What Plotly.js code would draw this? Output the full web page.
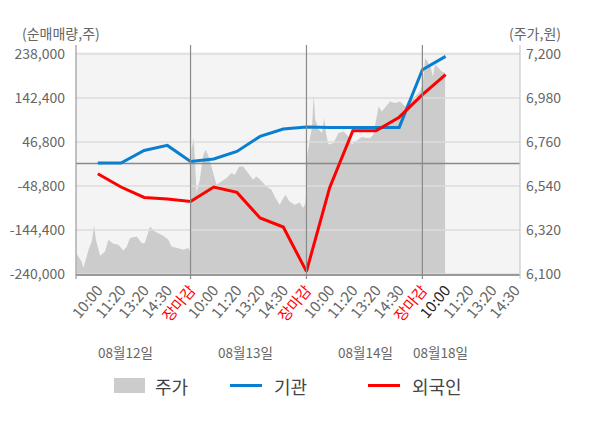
<!DOCTYPE html>
<html>
<head>
<meta charset="utf-8">
<script src="https://cdn.plot.ly/plotly-3.0.1.min.js"></script>
<style>html,body{margin:0;padding:0;background:#fff;}#chart{width:600px;height:428px;}</style>
</head>
<body>
<div id="chart"></div>
<script>
// ---- data ----
const slotLabels = ['10:00','11:20','13:20','14:30','장마감',
                    '10:00','11:20','13:20','14:30','장마감',
                    '10:00','11:20','13:20','14:30','장마감',
                    '10:00','11:20','13:20','14:30'];
const dateLabels = ['08월12일','08월13일','08월14일','08월18일'];
const seriesNames = ['주가','기관','외국인'];
const leftTickVals = [-240000,-144400,-48800,46800,142400,238000];
const leftTickText = ['-240,000','-144,400','-48,800','46,800','142,400','238,000'];
const rightTickVals = [6100,6320,6540,6760,6980,7200];
const rightTickText = ['6,100','6,320','6,540','6,760','6,980','7,200'];

// net buying (shares) at slots 1..16
const instSlots = [1,2,3,4,5,6,7,8,9,10,11,12,13,14,15,16];
const instValues = [1200,1200,28500,39400,4600,9900,26400,59000,75000,79400,78500,78500,78500,78500,203900,232800];
const foreignValues = [-22100,-51000,-73600,-77000,-82300,-51000,-62700,-118300,-137900,-234400,-52500,71300,71300,100700,149600,193000];

// stock price (slot position, price)
const priceX = [0.09,0.30,0.38,0.45,0.60,0.74,0.84,0.92,1.10,1.31,1.46,1.67,1.89,2.10,2.24,2.39,2.68,2.89,3.03,3.25,3.46,3.82,4.04,4.18,4.40,4.69,4.90,4.97,
  5.04,5.14,5.26,5.40,5.55,5.66,5.80,5.98,6.12,6.33,6.55,6.76,6.91,7.10,7.27,7.48,7.70,7.84,8.01,8.27,8.49,8.63,8.84,9.09,9.27,9.49,9.71,9.85,9.96,
  10.04,10.09,10.24,10.31,10.38,10.52,10.67,10.77,10.85,10.95,11.17,11.38,11.60,11.81,11.96,12.10,12.39,12.61,12.75,12.89,13.11,13.25,13.47,13.61,13.82,14.04,14.26,14.47,14.69,14.90,15.02,
  15.12,15.26,15.37,15.45,15.55,15.69,15.84,15.98];
const priceY = [6200,6163,6130,6163,6221,6263,6341,6271,6191,6213,6271,6251,6246,6218,6235,6280,6288,6255,6255,6338,6313,6291,6271,6238,6230,6221,6230,6213,
  6721,6780,6505,6571,6696,6721,6680,6596,6546,6563,6580,6605,6596,6638,6638,6605,6571,6588,6571,6538,6521,6488,6446,6496,6463,6446,6458,6430,6455,
  6700,6738,6838,6997,6872,6822,6805,6880,6797,6747,6755,6805,6813,6788,6747,6763,6785,6780,6780,6797,6938,6913,6947,6963,6955,6963,6938,6980,6988,7013,7055,
  7180,7155,7130,7088,7147,7130,7113,7105];

// ---- layout helpers ----
const L = 76, R = 520, T = 52, B = 274, W = R - L, H = B - T;
const px = v => (v - L) / W;
const py = v => (B - v) / H;
const FONT = '"Noto Sans CJK KR", "Noto Sans", sans-serif';
const xRange = [0.06, 19.21];
const currentIdx = 15;

const tickVals = slotLabels.map((_, i) => i + 1);
const tickText = slotLabels.map((t, i) => {
  if (t === '장마감') return '<span style="color:#ff0000">' + t + '</span>';
  if (i === currentIdx) return '<span style="color:#222222">' + t + '</span>';
  return t;
});

// gridlines drawn as a trace so they sit above the price area
const gx = [], gy = [];
leftTickVals.forEach(v => { gx.push(xRange[0], xRange[1], null); gy.push(v, v, null); });

const traces = [
  {x: priceX, y: priceY, yaxis: 'y', type: 'scatter', mode: 'lines', fill: 'tozeroy',
   fillcolor: '#cccccc', line: {width: 0, color: '#cccccc'}, hoverinfo: 'skip', showlegend: false, name: seriesNames[0]},
  {x: gx, y: gy, yaxis: 'y2', type: 'scatter', mode: 'lines', line: {width: 1.3, color: '#dddddd'},
   hoverinfo: 'skip', showlegend: false, connectgaps: false},
  {x: xRange, y: [0, 0], yaxis: 'y2', type: 'scatter', mode: 'lines', line: {width: 1.4, color: '#888888'},
   hoverinfo: 'skip', showlegend: false},
  {x: instSlots, y: instValues, yaxis: 'y2', type: 'scatter', mode: 'lines',
   line: {width: 3, color: '#0a7fd0'}, hoverinfo: 'skip', showlegend: false, name: seriesNames[1]},
  {x: instSlots, y: foreignValues, yaxis: 'y2', type: 'scatter', mode: 'lines',
   line: {width: 3, color: '#ff0000'}, hoverinfo: 'skip', showlegend: false, name: seriesNames[2]}
];

const shapes = [];
const yTop = py(45), yBot = py(279);
slotLabels.forEach((t, i) => {
  if (t === '장마감') shapes.push({type: 'line', xref: 'x', yref: 'paper', x0: i + 1, x1: i + 1,
    y0: yBot, y1: yTop, line: {color: '#8a8a8a', width: 1.2}, layer: 'above'});
});
shapes.push({type: 'line', xref: 'paper', yref: 'paper', x0: 0, x1: 0, y0: yBot, y1: yTop, line: {color: '#999999', width: 1.2}});
shapes.push({type: 'line', xref: 'paper', yref: 'paper', x0: 1, x1: 1, y0: yBot, y1: yTop, line: {color: '#cccccc', width: 1.2}});
// manual legend
shapes.push({type: 'rect', xref: 'paper', yref: 'paper', x0: px(114), x1: px(145), y0: py(393), y1: py(378),
  fillcolor: '#cccccc', line: {width: 0}});
shapes.push({type: 'line', xref: 'paper', yref: 'paper', x0: px(230), x1: px(262), y0: py(385.5), y1: py(385.5),
  line: {color: '#0a7fd0', width: 3}});
shapes.push({type: 'line', xref: 'paper', yref: 'paper', x0: px(368), x1: px(400), y0: py(385.5), y1: py(385.5),
  line: {color: '#ff0000', width: 3}});

const annotations = [
  {text: '(순매매량,주)', xref: 'paper', yref: 'paper', x: px(61), y: py(33), xanchor: 'center', yanchor: 'middle',
   showarrow: false, font: {size: 14, color: '#666666', family: FONT}},
  {text: '(주가,원)', xref: 'paper', yref: 'paper', x: px(535), y: py(33), xanchor: 'center', yanchor: 'middle',
   showarrow: false, font: {size: 14, color: '#666666', family: FONT}}
];
const datePos = [2.2, 7.37, 12.53, 15.76];
dateLabels.forEach((d, i) => annotations.push({text: d, xref: 'x', yref: 'paper', x: datePos[i], y: py(352),
  xanchor: 'center', yanchor: 'middle', showarrow: false, font: {size: 13.5, color: '#666666', family: FONT}}));
const legendTextX = [153, 272, 410];
seriesNames.forEach((n, i) => annotations.push({text: n, xref: 'paper', yref: 'paper', x: px(legendTextX[i]), y: py(386),
  xanchor: 'left', yanchor: 'middle', showarrow: false, font: {size: 18, color: '#444444', family: FONT}}));

const layout = {
  width: 600, height: 428,
  margin: {l: L, r: 600 - R, t: T, b: 428 - B, pad: 0},
  paper_bgcolor: '#ffffff', plot_bgcolor: '#f4f4f4',
  font: {family: FONT, color: '#666666', size: 14},
  showlegend: false,
  xaxis: {range: xRange, tickvals: tickVals, ticktext: tickText, tickangle: -50, ticks: '',
    showgrid: false, zeroline: false, showline: true, linecolor: '#999999', linewidth: 1.5,
    tickfont: {size: 15, color: '#666666', family: FONT}, fixedrange: true},
  yaxis: {range: [6100, 6100 + 5 * H], side: 'right', tickvals: rightTickVals, ticktext: rightTickText,
    showgrid: false, zeroline: false, ticks: '', ticklabelstandoff: 5,
    tickfont: {size: 14, color: '#666666', family: FONT}},
  yaxis2: {range: [-240000, -240000 + 2172.7 * H], overlaying: 'y', side: 'left', anchor: 'x',
    tickvals: leftTickVals, ticktext: leftTickText, showgrid: false, zeroline: false, ticks: '', ticklabelstandoff: 10,
    tickfont: {size: 14, color: '#666666', family: FONT}},
  shapes: shapes,
  annotations: annotations
};

Plotly.newPlot('chart', traces, layout, {staticPlot: true, displayModeBar: false});
</script>
</body>
</html>
